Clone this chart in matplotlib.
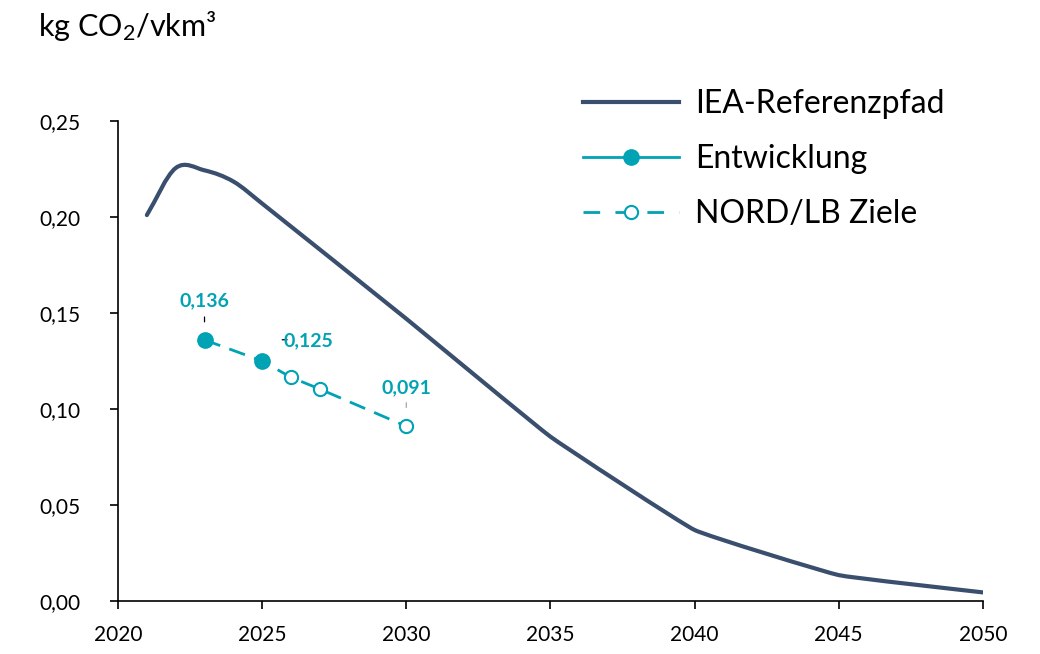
import numpy as np
import matplotlib.pyplot as plt
from matplotlib.path import Path
from matplotlib.patches import PathPatch
from matplotlib.lines import Line2D
from matplotlib.transforms import offset_copy

plt.rcParams["font.family"] = ["Lato", "DejaVu Sans"]
plt.rcParams["mathtext.fontset"] = "custom"
plt.rcParams["mathtext.rm"] = "Lato"
plt.rcParams["mathtext.it"] = "Lato:italic"

NAVY = "#3A4E6E"
TEAL = "#00A3B4"

# IEA reference path
iea_years = [2021, 2022, 2023, 2024, 2025, 2030, 2035, 2040, 2045, 2050]
iea_values = [0.201, 0.2255, 0.2243, 0.2185, 0.207, 0.147, 0.0856, 0.037, 0.0135, 0.0045]

# actual development
dev_years = [2023, 2025]
dev_values = [0.136, 0.125]

# NORD/LB targets
target_years = [2023, 2025, 2026, 2027, 2030]
target_values = [0.136, 0.125, 0.1165, 0.1104, 0.091]

label_years = [2023, 2025, 2030]
label_values = [0.136, 0.125, 0.091]
label_texts = ["0,136", "0,125", "0,091"]

x_ticks = [2020, 2025, 2030, 2035, 2040, 2045, 2050]
y_ticks = [0.0, 0.05, 0.10, 0.15, 0.20, 0.25]


def smooth_path(xs, ys, max_handle=0.45):
    # smoothed line as cubic bezier segments, short handles -> rounded corners
    xs = np.asarray(xs, float)
    ys = np.asarray(ys, float)
    sec = np.diff(ys) / np.diff(xs)
    m = np.empty_like(ys)
    m[1:-1] = (sec[:-1] + sec[1:]) / 2
    m[0] = sec[0]
    m[-1] = sec[-1]
    verts = [(xs[0], ys[0])]
    codes = [Path.MOVETO]
    for i in range(len(xs) - 1):
        h = min((xs[i + 1] - xs[i]) / 3, max_handle)
        verts += [
            (xs[i] + h, ys[i] + h * m[i]),
            (xs[i + 1] - h, ys[i + 1] - h * m[i + 1]),
            (xs[i + 1], ys[i + 1]),
        ]
        codes += [Path.CURVE4] * 3
    return Path(verts, codes)


fig = plt.figure(figsize=(10.4, 6.54), dpi=100)
ax = fig.add_axes([0.1135, 0.081, 0.8315, 0.734])

ax.add_patch(
    PathPatch(
        smooth_path(iea_years, iea_values),
        facecolor="none",
        edgecolor=NAVY,
        lw=3,
        capstyle="round",
        joinstyle="round",
        zorder=3,
    )
)

ax.plot(
    target_years,
    target_values,
    color=TEAL,
    lw=2,
    dashes=(6, 3.5),
    marker="o",
    markersize=9.5,
    markerfacecolor="white",
    markeredgecolor=TEAL,
    markeredgewidth=1.5,
    zorder=4,
)
ax.plot(
    dev_years,
    dev_values,
    linestyle="none",
    marker="o",
    markersize=11,
    color=TEAL,
    zorder=5,
)


def leader(x, y, a, b, color):
    start = offset_copy(ax.transData, fig=fig, x=a[0], y=a[1], units="points")
    ax.annotate(
        "",
        xy=(x, y),
        xycoords=start,
        xytext=(b[0] - a[0], b[1] - a[1]),
        textcoords="offset points",
        arrowprops=dict(arrowstyle="-", color=color, lw=0.9, shrinkA=0, shrinkB=0),
    )


label_offsets = [(0, 28), (15, 14.5), (0, 28)]
label_ha = ["center", "left", "center"]
leader_ends = [((0, 13), (0, 16.5)), ((14.4, 15.3), (18, 15.3)), ((0, 13.5), (0, 17))]
leader_colors = ["black", "black", "#A6A6A6"]
for x, y, txt, off, ha, ends, lc in zip(
    label_years, label_values, label_texts, label_offsets, label_ha, leader_ends, leader_colors
):
    leader(x, y, ends[0], ends[1], lc)
    ax.annotate(
        txt,
        (x, y),
        xytext=off,
        textcoords="offset points",
        ha=ha,
        va="center",
        color=TEAL,
        fontsize=14,
        fontweight="bold",
    )

ax.set_xlim(2020, 2050)
ax.set_ylim(0, 0.25)
ax.set_xticks(x_ticks)
ax.set_yticks(y_ticks)
ax.set_yticklabels([f"{v:.2f}".replace(".", ",") for v in y_ticks])
ax.tick_params(axis="both", labelsize=15, length=6, width=1.2, direction="out")
ax.tick_params(axis="y", pad=21)
ax.tick_params(axis="x", pad=11)
for side in ["top", "right"]:
    ax.spines[side].set_visible(False)
for side in ["left", "bottom"]:
    ax.spines[side].set_linewidth(1.2)

fig.text(0.037, 0.945, "kg CO$_2$/vkm³", fontsize=22, ha="left", va="baseline")

handles = [
    Line2D([], [], color=NAVY, lw=3),
    Line2D([], [], color=TEAL, lw=2, marker="o", markersize=11),
    Line2D([], [], color=TEAL, lw=2, dashes=(6, 5.5), marker="o", markersize=9.5,
           markerfacecolor="white", markeredgewidth=1.5),
]
ax.legend(
    handles,
    ["IEA-Referenzpfad", "Entwicklung", "NORD/LB Ziele"],
    loc="upper left",
    bbox_to_anchor=(583 / 1040, 1 - 89 / 654),
    bbox_transform=fig.transFigure,
    frameon=False,
    fontsize=23,
    handlelength=3.0,
    handletextpad=0.5,
    labelspacing=0.78,
    borderpad=0,
    borderaxespad=0,
)

fig.savefig("out.png", dpi=100)
